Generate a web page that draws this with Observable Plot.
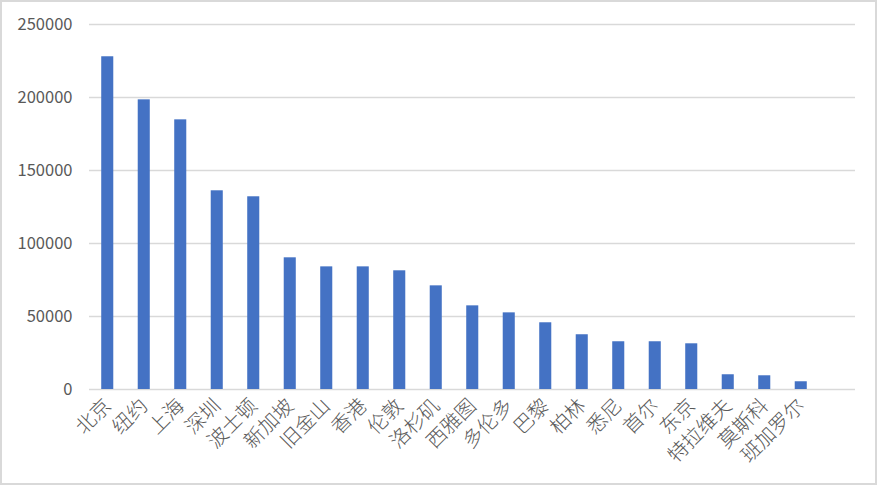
<!DOCTYPE html>
<html>
<head>
<meta charset="utf-8">
<script src="https://cdn.jsdelivr.net/npm/d3@7"></script>
<script src="https://cdn.jsdelivr.net/npm/@observablehq/plot@0.6"></script>
<style>
  html, body { margin: 0; padding: 0; background: #fff; }
  #wrap { position: relative; width: 878px; height: 486px; overflow: hidden; }
  #wrap::after { content: ""; position: absolute; left: 0; top: 0; width: 877px; height: 485px; border: 2px solid #d9d9d9; box-sizing: border-box; pointer-events: none; }
  #wrap svg { display: block; }
</style>
</head>
<body>
<div id="wrap"></div>
<script>
const cities = ["北京","纽约","上海","深圳","波士顿","新加坡","旧金山","香港","伦敦","洛杉矶","西雅图","多伦多","巴黎","柏林","悉尼","首尔","东京","特拉维夫","莫斯科","班加罗尔"];
const values = [227900,198400,184700,136100,132000,90200,84000,84000,81300,71000,57300,52500,45700,37500,32700,32700,31300,10100,9400,5300];
const yTicks = [0,50000,100000,150000,200000,250000];

const data = cities.map((c, i) => ({city: c, value: values[i]}));

const W = 878, H = 486;
const mL = 89, mR = 23, mT = 24, mB = 97;

const chart = Plot.plot({
  width: W,
  height: H,
  marginLeft: mL,
  marginRight: mR,
  marginTop: mT,
  marginBottom: mB,
  style: { fontFamily: "'Noto Sans CJK SC', 'Noto Sans', sans-serif", background: "#fff" },
  x: { type: "band", domain: cities, range: [mL, mL + 730], paddingInner: 0.67, paddingOuter: 0.335, round: false, label: null },
  y: { domain: [0, 250000], label: null },
  marks: [
    Plot.gridY(yTicks, { stroke: "#d9d9d9", strokeOpacity: 1, strokeWidth: 1.3 }),
    Plot.barY(data, { x: "city", y: "value", fill: "#4472c4" }),
    Plot.axisY(yTicks, { tickSize: 0, tickPadding: 17, tickFormat: d => String(d), fontSize: 16.5, fill: "#595959", label: null }),
    Plot.axisX({ tickSize: 0, tickPadding: 13, tickRotate: -45, fontSize: 20, fontWeight: 300, fill: "#595959", label: null })
  ]
});
document.getElementById("wrap").appendChild(chart);
</script>
</body>
</html>
